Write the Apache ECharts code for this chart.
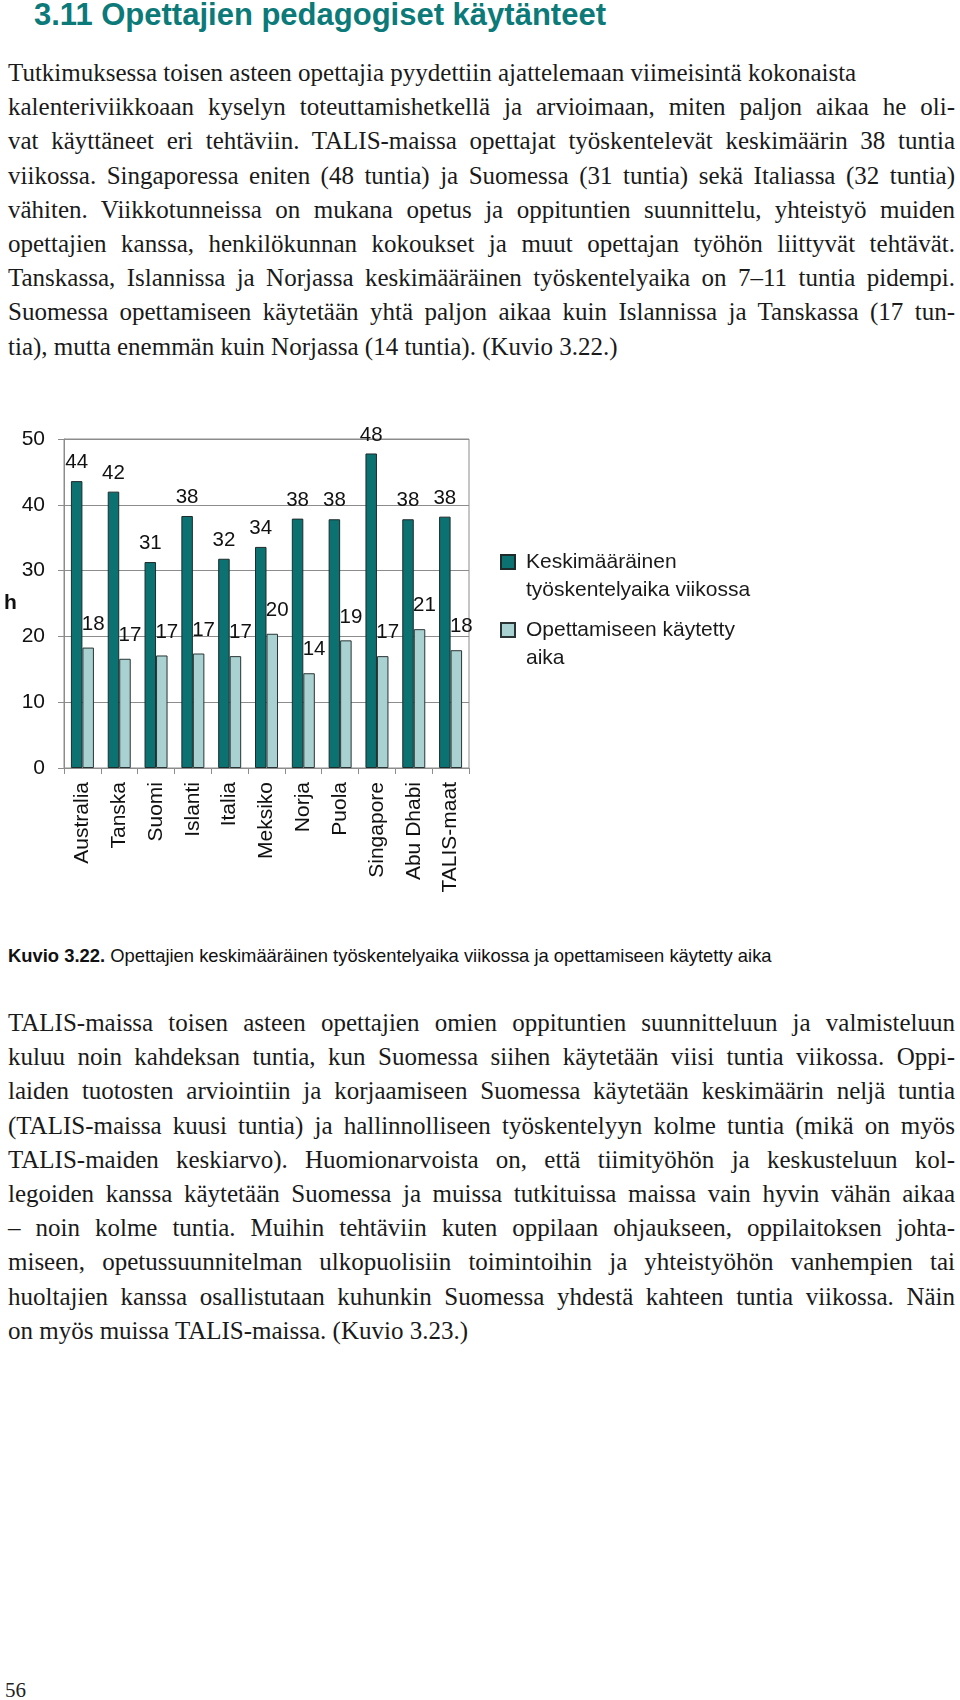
<!DOCTYPE html>
<html>
<head>
<meta charset="utf-8">
<script src="https://cdn.jsdelivr.net/npm/echarts@6/dist/echarts.min.js"></script>
<style>
  html, body { margin:0; padding:0; background:#fff; }
  body { width:960px; height:1700px; position:relative; overflow:hidden; }
  .title { position:absolute; left:34px; top:-2px; font-family:'Liberation Sans', Arial, sans-serif; font-weight:bold; font-size:31px; line-height:34px; color:#0b7a78; white-space:nowrap; }
  .para { position:absolute; left:8px; width:947px; font-family:'Liberation Serif', 'Times New Roman', serif; font-size:25px; color:#1a1a1a; }
  .ln { height:34.2px; line-height:34.2px; text-align:justify; text-align-last:justify; white-space:nowrap; }
  .ln.free { text-align-last:left; }
  .caption { position:absolute; left:8px; top:945px; font-family:'Liberation Sans', Arial, sans-serif; font-size:18.4px; line-height:22px; color:#111; white-space:nowrap; }
  .page { position:absolute; left:5px; top:1677px; font-family:'Liberation Serif', serif; font-size:21px; line-height:26px; color:#222; }
  #chart { position:absolute; left:0; top:400px; width:960px; height:520px; }
</style>
</head>
<body>
<div class="title">3.11 Opettajien pedagogiset käytänteet</div>

<div class="para" style="top:56px;">
  <div class="ln free">Tutkimuksessa toisen asteen opettajia pyydettiin ajattelemaan viimeisintä kokonaista</div>
  <div class="ln">kalenteriviikkoaan kyselyn toteuttamishetkellä ja arvioimaan, miten paljon aikaa he oli-</div>
  <div class="ln">vat käyttäneet eri tehtäviin. TALIS-maissa opettajat työskentelevät keskimäärin 38 tuntia</div>
  <div class="ln">viikossa. Singaporessa eniten (48 tuntia) ja Suomessa (31 tuntia) sekä Italiassa (32 tuntia)</div>
  <div class="ln">vähiten. Viikkotunneissa on mukana opetus ja oppituntien suunnittelu, yhteistyö muiden</div>
  <div class="ln">opettajien kanssa, henkilökunnan kokoukset ja muut opettajan työhön liittyvät tehtävät.</div>
  <div class="ln">Tanskassa, Islannissa ja Norjassa keskimääräinen työskentelyaika on 7–11 tuntia pidempi.</div>
  <div class="ln">Suomessa opettamiseen käytetään yhtä paljon aikaa kuin Islannissa ja Tanskassa (17 tun-</div>
  <div class="ln free">tia), mutta enemmän kuin Norjassa (14 tuntia). (Kuvio 3.22.)</div>
</div>

<div id="chart"></div>

<div class="caption"><b>Kuvio 3.22.</b> Opettajien keskimääräinen työskentelyaika viikossa ja opettamiseen käytetty aika</div>

<div class="para" style="top:1006px;">
  <div class="ln">TALIS-maissa toisen asteen opettajien omien oppituntien suunnitteluun ja valmisteluun</div>
  <div class="ln">kuluu noin kahdeksan tuntia, kun Suomessa siihen käytetään viisi tuntia viikossa. Oppi-</div>
  <div class="ln">laiden tuotosten arviointiin ja korjaamiseen Suomessa käytetään keskimäärin neljä tuntia</div>
  <div class="ln">(TALIS-maissa kuusi tuntia) ja hallinnolliseen työskentelyyn kolme tuntia (mikä on myös</div>
  <div class="ln">TALIS-maiden keskiarvo). Huomionarvoista on, että tiimityöhön ja keskusteluun kol-</div>
  <div class="ln">legoiden kanssa käytetään Suomessa ja muissa tutkituissa maissa vain hyvin vähän aikaa</div>
  <div class="ln">– noin kolme tuntia. Muihin tehtäviin kuten oppilaan ohjaukseen, oppilaitoksen johta-</div>
  <div class="ln">miseen, opetussuunnitelman ulkopuolisiin toimintoihin ja yhteistyöhön vanhempien tai</div>
  <div class="ln">huoltajien kanssa osallistutaan kuhunkin Suomessa yhdestä kahteen tuntia viikossa. Näin</div>
  <div class="ln free">on myös muissa TALIS-maissa. (Kuvio 3.23.)</div>
</div>

<div class="page">56</div>

<script>
// ---- data ----
var categories = ['Australia', 'Tanska', 'Suomi', 'Islanti', 'Italia', 'Meksiko', 'Norja', 'Puola', 'Singapore', 'Abu Dhabi', 'TALIS-maat'];
var workHours  = [43.6, 42.0, 31.3, 38.3, 31.8, 33.6, 37.9, 37.8, 47.8, 37.8, 38.2];
var teachHours = [18.3, 16.6, 17.1, 17.4, 17.0, 20.4, 14.4, 19.4, 17.0, 21.1, 17.9];
var seriesNames = ['Keskimääräinen työskentelyaika viikossa', 'Opettamiseen käytetty aika'];
var legendLines = {
  'Keskimääräinen työskentelyaika viikossa': 'Keskimääräinen\ntyöskentelyaika viikossa',
  'Opettamiseen käytetty aika': 'Opettamiseen käytetty\naika'
};
var yTicks = { min: 0, max: 50, interval: 10 };

var FONT = "'Liberation Sans', Arial, Helvetica, sans-serif";
var DARK = '#0b7171';
var LIGHT = '#a9d1d2';
var GRIDC = '#8c8c8c';

var chart = echarts.init(document.getElementById('chart'), null, { renderer: 'canvas' });
chart.setOption({
  animation: false,
  backgroundColor: 'transparent',
  textStyle: { fontFamily: FONT },
  grid: { left: 64, top: 39, width: 405, height: 329, show: true, borderColor: GRIDC, borderWidth: 1, containLabel: false },
  legend: {
    orient: 'vertical',
    left: 495,
    top: 143,
    itemGap: 12,
    itemWidth: 20,
    itemHeight: 42,
    icon: 'path://M0,0L14,0L14,14L0,14Z M20,42L20,42.01',
    formatter: function (n) { return legendLines[n] || n; },
    textStyle: { fontFamily: FONT, fontSize: 21, lineHeight: 28, color: '#1a1a1a' },
    data: seriesNames
  },
  xAxis: {
    type: 'category',
    data: categories,
    axisLine: { lineStyle: { color: GRIDC, width: 1 } },
    axisTick: { show: true, length: 6, lineStyle: { color: GRIDC } },
    axisLabel: { rotate: 90, fontSize: 21, margin: 14, color: '#111', fontFamily: FONT, interval: 0 },
    splitLine: { show: false }
  },
  yAxis: {
    type: 'value',
    min: yTicks.min, max: yTicks.max, interval: yTicks.interval,
    name: 'h',
    nameLocation: 'middle',
    nameRotate: 0,
    nameGap: 45,
    nameTextStyle: { fontSize: 21, fontWeight: 'bold', color: '#111', fontFamily: FONT },
    axisLine: { show: true, lineStyle: { color: GRIDC, width: 1 } },
    axisTick: { show: true, length: 6, lineStyle: { color: GRIDC } },
    axisLabel: { fontSize: 21, margin: 19, color: '#111', fontFamily: FONT },
    splitLine: { show: true, lineStyle: { color: GRIDC, width: 1 } }
  },
  series: [
    {
      name: seriesNames[0],
      type: 'bar',
      data: workHours,
      barWidth: 11.5,
      barGap: '0%',
      itemStyle: { color: DARK, borderColor: '#1e2b2b', borderWidth: 1 },
      label: {
        show: true, position: 'top', distance: 8,
        fontSize: 20.5, color: '#111', fontFamily: FONT,
        formatter: function (p) { return Math.round(p.value); }
      }
    },
    {
      name: seriesNames[1],
      type: 'bar',
      data: teachHours,
      barWidth: 11.5,
      barGap: '0%',
      itemStyle: { color: LIGHT, borderColor: '#2a3434', borderWidth: 1 },
      label: {
        show: true, position: 'top', distance: 13, offset: [5, 0],
        fontSize: 20.5, color: '#111', fontFamily: FONT,
        formatter: function (p) { return Math.round(p.value); }
      }
    }
  ]
});
</script>
</body>
</html>
